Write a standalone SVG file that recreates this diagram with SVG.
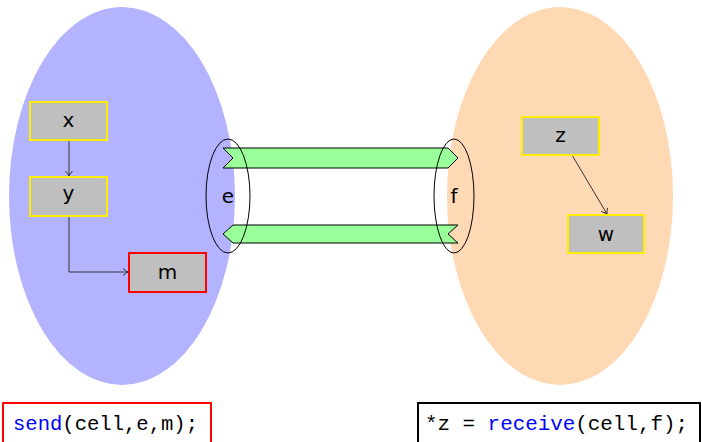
<svg xmlns="http://www.w3.org/2000/svg" width="702" height="442" viewBox="0 0 702 442">
<style>
.node rect{fill:#bfbfbf;stroke:#ffee00;stroke-width:2}
.node.red rect{stroke:#ff0000}
.lbl{font-family:"DejaVu Sans",sans-serif;font-size:20px;text-anchor:middle;fill:#000}
.edge{fill:none;stroke:#333;stroke-width:1}
.band{fill:#99ff99;stroke:#000;stroke-width:1}
.port{fill:none;stroke:#000;stroke-width:1}
.code{font-family:"Liberation Mono",monospace;font-size:20px;fill:#000}
.kw{fill:#0000ff}
</style>
<defs>
<marker id="arr" markerWidth="10" markerHeight="10" refX="8" refY="5" orient="auto" markerUnits="userSpaceOnUse">
<path d="M3,1.5 Q6,4 8,5 Q6,6 3,8.5" fill="none" stroke="#333" stroke-width="1"/>
</marker>
</defs>
<g id="regions">
<ellipse cx="122" cy="196" rx="113" ry="189" fill="#b3b3ff"/>
<ellipse cx="560" cy="196" rx="113" ry="189" fill="#ffd9b3"/>
</g>
<g id="channel">
<path class="band" d="M223,148 L448,148 L458,158 L448,168 L223,168 L233,158 Z"/>
<path class="band" d="M233,225 L458,225 L448,234 L458,243 L233,243 L223,234 Z"/>
</g>
<g id="port-e">
<ellipse class="port" cx="228" cy="196" rx="22" ry="57"/>
<text class="lbl" x="228" y="203">e</text>
</g>
<g id="port-f">
<ellipse class="port" cx="454" cy="196" rx="20" ry="57"/>
<text class="lbl" x="454" y="203">f</text>
</g>
<g id="connectors">
<path class="edge" d="M69,140 L69,176" marker-end="url(#arr)"/>
<path class="edge" d="M69,216 L69,272 L128,272" marker-end="url(#arr)"/>
<path class="edge" d="M572,155 L607,214" marker-end="url(#arr)"/>
</g>
<g id="node-x" class="node">
<rect x="30" y="102" width="77" height="38"/>
<text class="lbl" x="68.5" y="127">x</text>
</g>
<g id="node-y" class="node">
<rect x="30" y="177" width="77" height="39"/>
<text class="lbl" x="68.5" y="200">y</text>
</g>
<g id="node-m" class="node red">
<rect x="129" y="253" width="77" height="39"/>
<text class="lbl" x="167.5" y="279">m</text>
</g>
<g id="node-z" class="node">
<rect x="522" y="117" width="77" height="38"/>
<text class="lbl" x="560.5" y="142">z</text>
</g>
<g id="node-w" class="node">
<rect x="568" y="215" width="76" height="38"/>
<text class="lbl" x="606" y="241">w</text>
</g>
<g id="code-send">
<rect x="3" y="403" width="208" height="42" fill="#fff" stroke="#ff0000" stroke-width="2"/>
<text class="code" x="13" y="430" textLength="185" lengthAdjust="spacingAndGlyphs"><tspan class="kw">send</tspan>(cell,e,m);</text>
</g>
<g id="code-receive">
<rect x="418" y="403" width="282" height="42" fill="#fff" stroke="#000" stroke-width="2"/>
<text class="code" x="425" y="430" textLength="263" lengthAdjust="spacingAndGlyphs">*z = <tspan class="kw">receive</tspan>(cell,f);</text>
</g>
</svg>
